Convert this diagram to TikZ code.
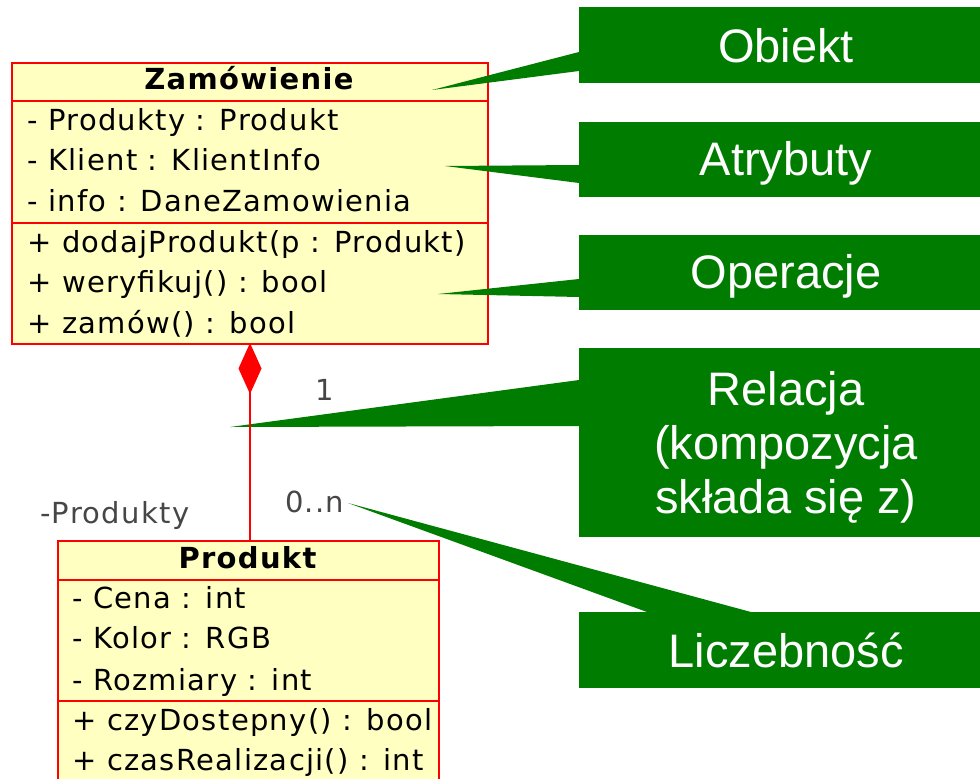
\documentclass[tikz,border=0pt]{standalone}
\usepackage{fontspec}
\setmainfont{DejaVu Sans}
\newfontfamily\umlfont[LetterSpace=4.5]{DejaVu Sans}
\newfontfamily\callfont{Liberation Sans}
\usetikzlibrary{arrows.meta}
\definecolor{umlred}{RGB}{255,0,0}
\definecolor{umlfill}{RGB}{255,255,194}
\definecolor{callgreen}{RGB}{0,124,0}
\definecolor{labgray}{RGB}{70,70,70}
\begin{document}
\begin{tikzpicture}[x=1pt,y=-1pt,
  classbox/.style={draw=umlred, fill=umlfill, line width=2.2pt, rectangle, inner sep=0pt, anchor=north west},
  sepline/.style={draw=umlred, line width=2.2pt},
  member/.style={font=\umlfont\fontsize{29}{35}\selectfont, anchor=base west, inner sep=0pt, text=black},
  ctitle/.style={font=\umlfont\bfseries\fontsize{29}{35}\selectfont, anchor=base, inner sep=0pt, text=black},
  rolelabel/.style={font=\umlfont\fontsize{29}{35}\selectfont, inner sep=0pt, text=labgray},
  callbox/.style={fill=callgreen, draw=none, rectangle, inner sep=0pt, anchor=north west, minimum width=420pt},
  calltext/.style={font=\callfont\fontsize{47}{54}\selectfont, text=white, anchor=base, inner sep=0pt},
  wedge/.style={fill=callgreen, draw=none},
  compo/.style={draw=umlred, line width=2.5pt, {Diamond[length=51pt,width=23pt,fill=umlred]}-}
]
\useasboundingbox (0,0) rectangle (980,779);
\clip (0,0) rectangle (980,779);

% ---------- class Zamowienie ----------
\node[classbox, minimum width=476pt, minimum height=281pt] (zam) at (11,62) {};
\coordinate (zs1) at (11,101);
\coordinate (zs2) at (11,223);
\draw[sepline] (zs1) -- (zs1 -| zam.east);
\draw[sepline] (zs2) -- (zs2 -| zam.east);
\node[ctitle] (zamt) at (249,89) {Zamówienie};
\node[member] (za1) at (27,130) {- Produkty : Produkt};
\node[member] (za2) at (27,170) {- Klient : KlientInfo};
\node[member] (za3) at (27,211) {- info : DaneZamowienia};
\node[member] (zo1) at (27,252) {+ dodajProdukt(p : Produkt)};
\node[member] (zo2) at (27,292) {+ weryfikuj() : bool};
\node[member] (zo3) at (27,333) {+ zamów() : bool};

% ---------- class Produkt ----------
\node[classbox, minimum width=381pt, minimum height=270pt] (prod) at (57,540) {};
\coordinate (ps1) at (57,580);
\coordinate (ps2) at (57,701);
\draw[sepline] (ps1) -- (ps1 -| prod.east);
\draw[sepline] (ps2) -- (ps2 -| prod.east);
\node[ctitle] (prodt) at (247.5,568) {Produkt};
\node[member] (pa1) at (72,608) {- Cena : int};
\node[member] (pa2) at (72,648) {- Kolor : RGB};
\node[member] (pa3) at (72,690) {- Rozmiary : int};
\node[member] (po1) at (72,730) {+ czyDostepny() : bool};
\node[member] (po2) at (72,770) {+ czasRealizacji() : int};

% ---------- association labels ----------
\node[rolelabel, anchor=base] (mult1) at (325,400) {1};
\node[rolelabel, anchor=base west] (multn) at (285,512) {0..n};
\node[rolelabel, anchor=base west] (role) at (40,523) {-Produkty};

% ---------- callouts ----------
\node[callbox, minimum height=76pt] (obiekt) at (579,7) {};
\node[callbox, minimum height=75pt] (atryb) at (579,122) {};
\node[callbox, minimum height=75pt] (operac) at (579,235) {};
\node[callbox, minimum height=189pt] (relac) at (579,348) {};
\node[callbox, minimum height=76pt] (liczb) at (579,612) {};

\node[calltext] (tobiekt) at (786,62) {Obiekt};
\node[calltext] (tatryb) at (786,175) {Atrybuty};
\node[calltext] (toperac) at (786,288) {Operacje};
\node[calltext] (trel1) at (786,405) {Relacja};
\node[calltext] (trel2) at (786,459) {(kompozycja};
\node[calltext] (trel3) at (786,513) {składa się z)};
\node[calltext] (tliczb) at (786,667) {Liczebność};

\coordinate (tipO) at (432,90);
\coordinate (tipA) at (445,166);
\coordinate (tipP) at (438,294);
\coordinate (tipR) at (230,427);
\coordinate (tipL) at (348,503);
\fill[wedge] (tipO) -- (579,52) -- (579,71) -- cycle;
\fill[wedge] (tipA) -- (579,165) -- (579,183) -- cycle;
\fill[wedge] (tipP) -- (579,279) -- (579,297) -- cycle;
\fill[wedge] (tipR) -- (579,380) -- (579,426) -- cycle;
\fill[wedge] (tipL) -- (647,612) -- (751,612) -- cycle;

% ---------- composition connector ----------
\coordinate (dtop) at (250,343);
\coordinate (ptop) at (250,540);
\draw[compo] (dtop) -- (ptop);
\end{tikzpicture}
\end{document}
